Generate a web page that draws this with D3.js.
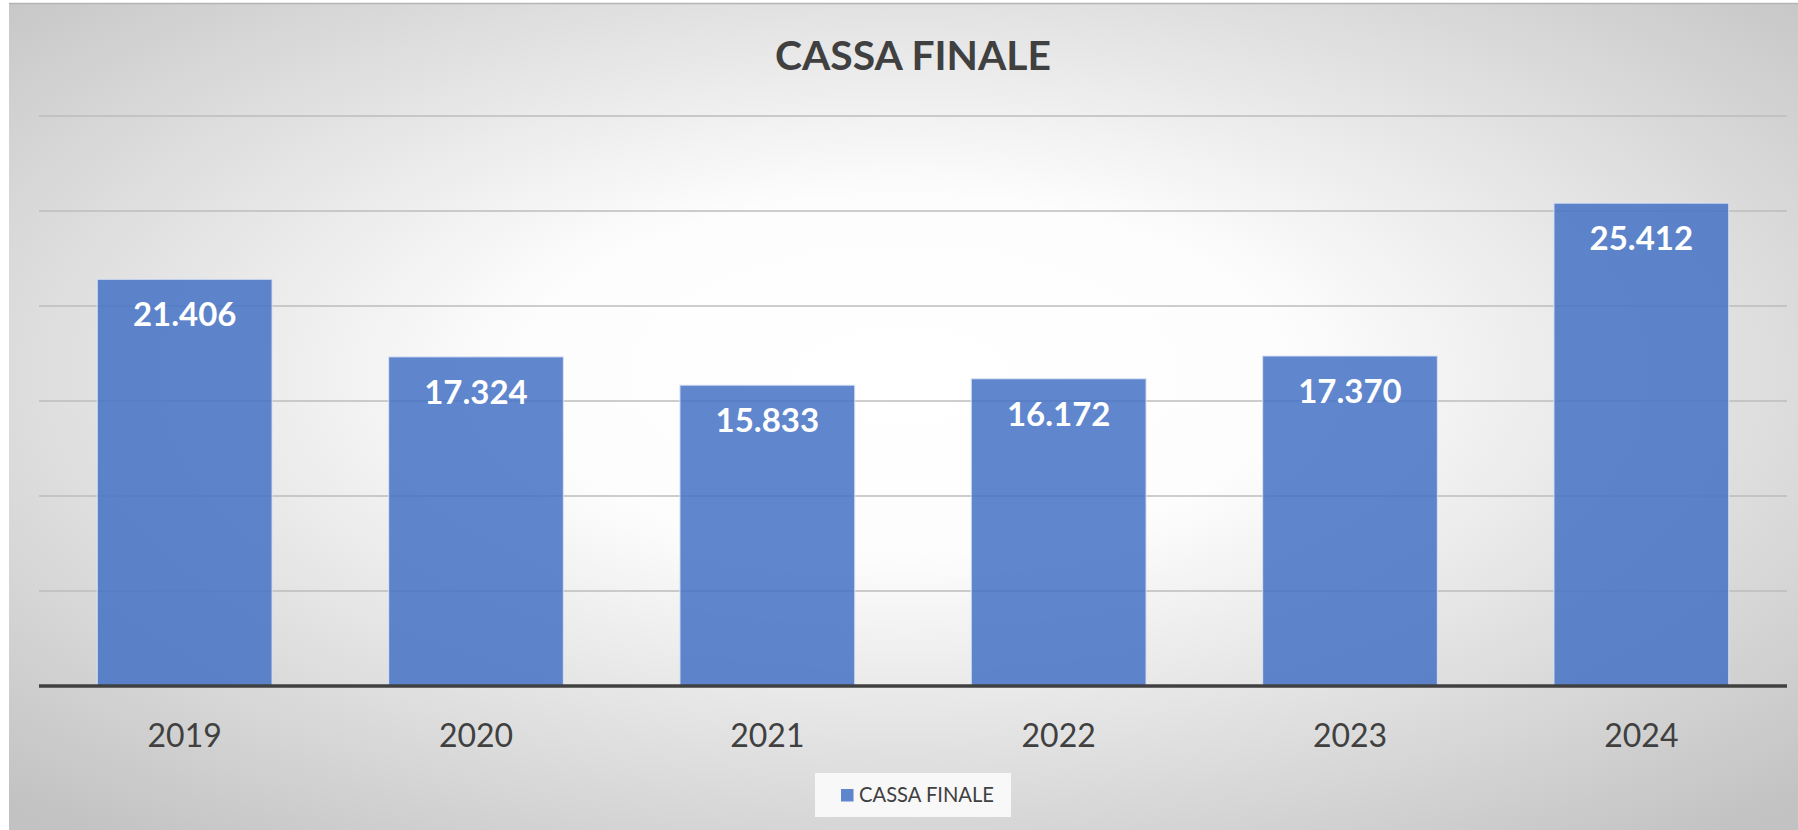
<!DOCTYPE html>
<html>
<head>
<meta charset="utf-8">
<script src="https://cdn.jsdelivr.net/npm/d3@7"></script>
<style>
html,body{margin:0;padding:0;background:#fff;}
svg{display:block;}
</style>
</head>
<body>
<svg id="chart" width="1798" height="830"></svg>
<script>
const title = "CASSA FINALE";
const seriesName = "CASSA FINALE";
const categories = ["2019","2020","2021","2022","2023","2024"];
const values = [21406, 17324, 15833, 16172, 17370, 25412];
const yTicks = [0, 5000, 10000, 15000, 20000, 25000, 30000];
const yMax = 30000;

const W = 1798, H = 830;
const svg = d3.select("#chart");
const defs = svg.append("defs");
const grad = defs.append("radialGradient").attr("id","bg")
  .attr("cx","0.5").attr("cy","0.45").attr("r","0.72");
grad.append("stop").attr("offset","0").attr("stop-color","#ffffff");
grad.append("stop").attr("offset","0.3").attr("stop-color","#fdfdfd");
grad.append("stop").attr("offset","1").attr("stop-color","#c2c2c2");

svg.append("rect").attr("x",9).attr("y",3).attr("width",W-9).attr("height",H-3)
  .attr("fill","url(#bg)");
svg.append("line").attr("x1",9).attr("x2",W).attr("y1",3.5).attr("y2",3.5)
  .attr("stroke","#b4b4b4").attr("stroke-width",1.5);

const m = {left:39, right:1787, top:116, bottom:686};
const x = d3.scaleBand().domain(categories).range([m.left, m.right]).paddingInner(0.4).paddingOuter(0.2);
const y = d3.scaleLinear().domain([0, yMax]).range([m.bottom, m.top]);

// gridlines
svg.append("g").selectAll("line").data(yTicks.filter(d=>d>0)).join("line")
  .attr("x1",m.left).attr("x2",m.right)
  .attr("y1",d=>y(d)).attr("y2",d=>y(d))
  .attr("stroke","#bcbcbc").attr("stroke-width",1.5);

// bars
svg.append("g").selectAll("rect").data(values).join("rect")
  .attr("x",(d,i)=>x(categories[i]))
  .attr("y",d=>y(d))
  .attr("width",x.bandwidth())
  .attr("height",d=>y(0)-y(d))
  .attr("fill","#4472c4").attr("fill-opacity",0.85)
  .attr("stroke","#dde5f5").attr("stroke-opacity",0.8).attr("stroke-width",1.2);

// data labels
svg.append("g").selectAll("text").data(values).join("text")
  .attr("x",(d,i)=>x(categories[i])+x.bandwidth()/2)
  .attr("y",d=>y(d)+47)
  .attr("text-anchor","middle")
  .attr("font-family","Lato, 'Open Sans', sans-serif")
  .attr("font-weight","bold")
  .attr("font-size",33)
  .attr("fill","#ffffff")
  .text(d=>d3.format(",")(d).replace(/,/g,"."));

// x axis
const xAxis = svg.append("g").attr("transform",`translate(0,${m.bottom})`)
  .call(d3.axisBottom(x).tickSize(0).tickPadding(0));
xAxis.select(".domain").remove();
xAxis.append("line").attr("x1",m.left).attr("x2",m.right).attr("y1",0).attr("y2",0)
  .attr("stroke","#404040").attr("stroke-width",3.5);
xAxis.selectAll(".tick text")
  .attr("dy",null).attr("y",61)
  .attr("font-family","Lato, 'Open Sans', sans-serif")
  .attr("font-size",32)
  .attr("fill","#404040");

// title
svg.append("text").attr("x",(m.left+m.right)/2).attr("y",70)
  .attr("text-anchor","middle")
  .attr("font-family","Lato, 'Open Sans', sans-serif")
  .attr("font-weight","bold").attr("font-size",41)
  .attr("fill","#404040")
  .attr("textLength",276).attr("lengthAdjust","spacingAndGlyphs")
  .text(title);

// legend
const lg = svg.append("g");
lg.append("rect").attr("x",815).attr("y",773).attr("width",196).attr("height",44)
  .attr("fill","#f8f8f8");
lg.append("rect").attr("x",841).attr("y",789).attr("width",12.5).attr("height",12.5)
  .attr("fill","#4472c4").attr("fill-opacity",0.85);
lg.append("text").attr("x",859).attr("y",802)
  .attr("font-family","Lato, 'Open Sans', sans-serif")
  .attr("font-size",22).attr("fill","#404040")
  .attr("textLength",135).attr("lengthAdjust","spacingAndGlyphs")
  .text(seriesName);
</script>
</body>
</html>
